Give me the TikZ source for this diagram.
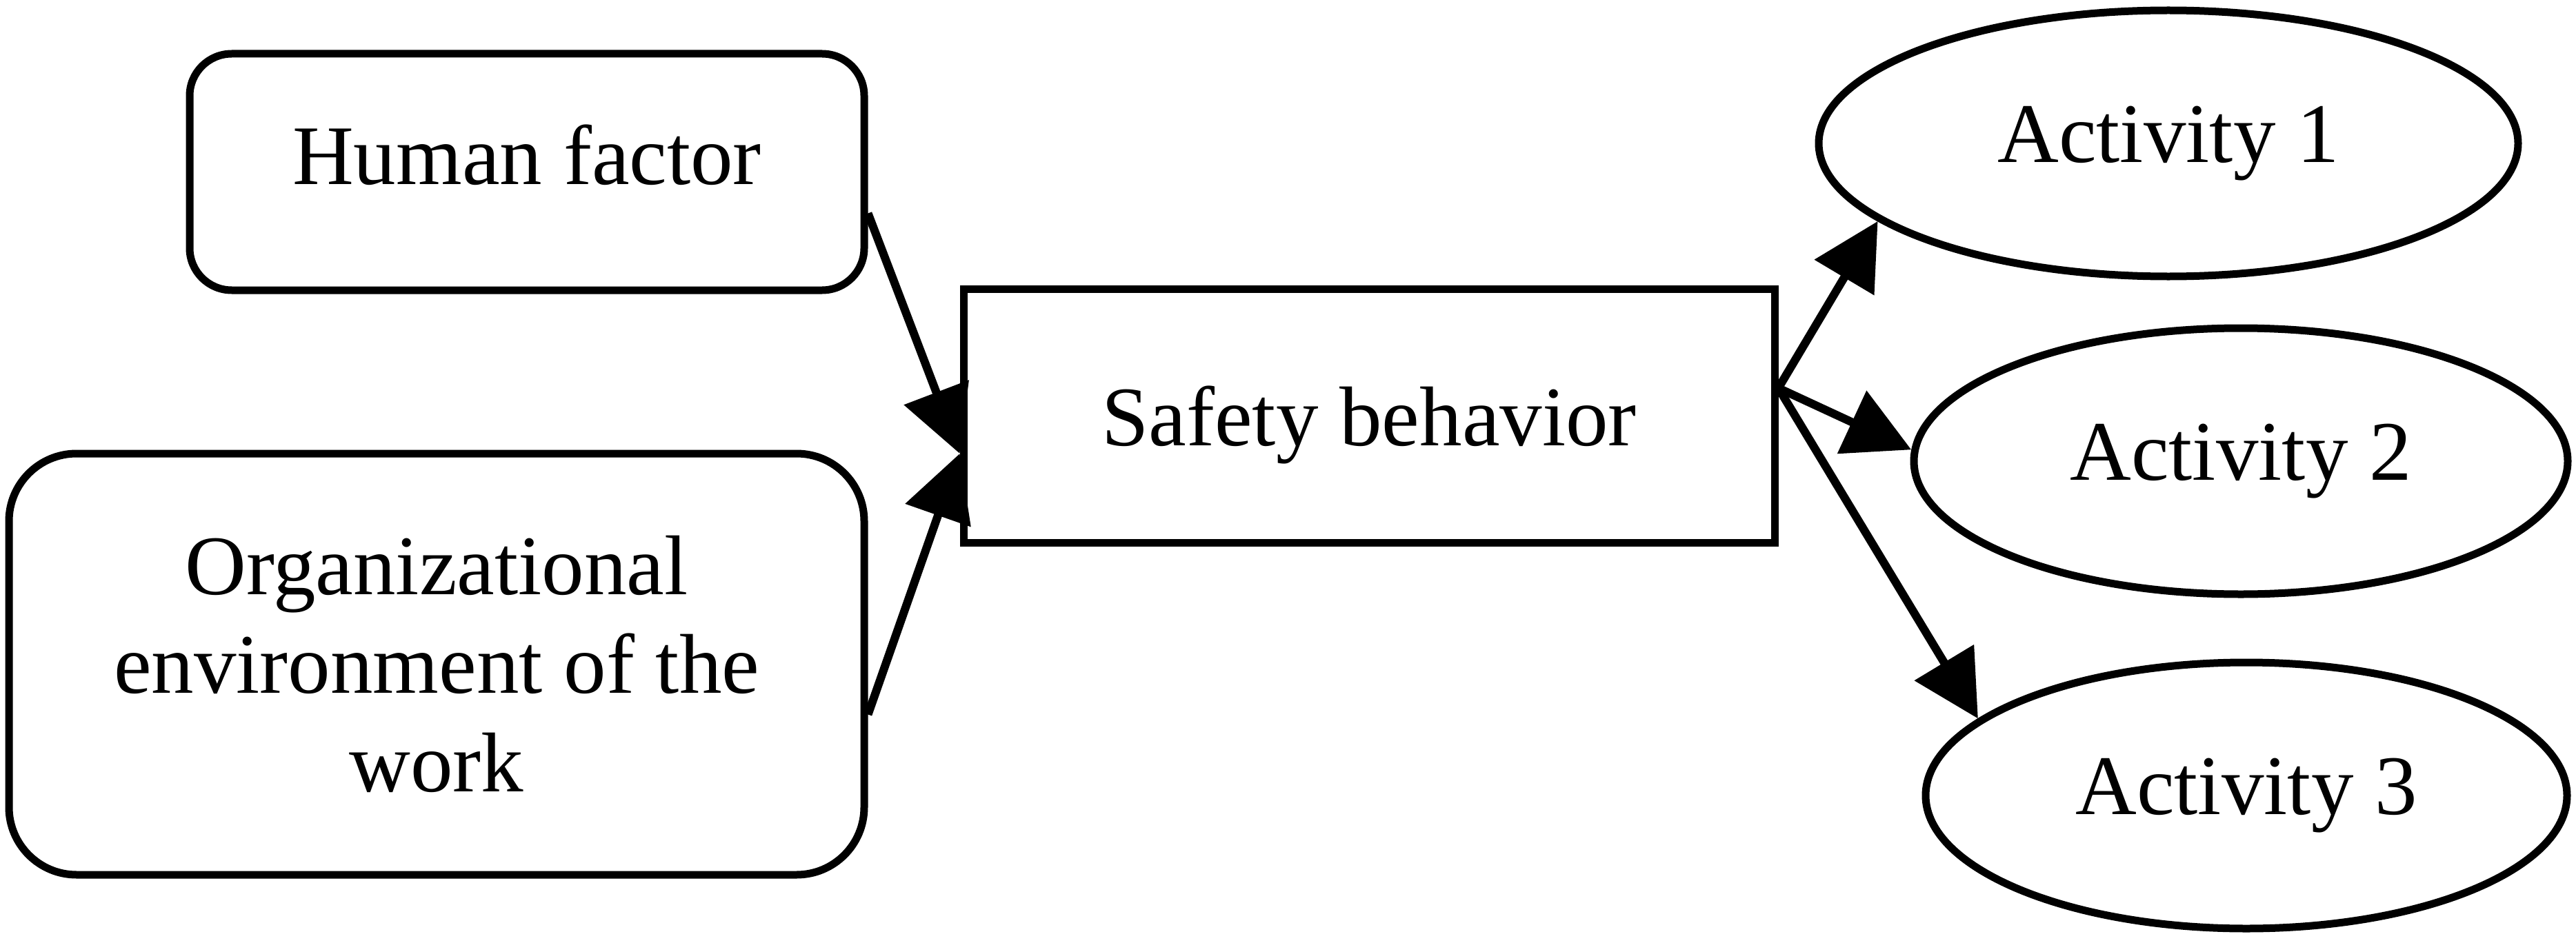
\documentclass[tikz,border=0pt]{standalone}
\usepackage{fontspec}
\setmainfont{Liberation Serif}
\usetikzlibrary{calc,arrows.meta,shapes.geometric}
\tikzset{
	basebox/.style={draw, line width=1.1mm, inner sep=0pt, font=\fontsize{35pt}{40.7pt}\selectfont},
	factorbox/.style={basebox, rounded corners=#1},
	behaviorbox/.style={basebox},
	actellipse/.style={basebox, ellipse},
	flowarrow/.style={line width=1.2mm, -{Triangle[length=0.95cm, width=0.98cm]}}
}

\begin{document}
\begin{tikzpicture}
			%%%%% START %%%%%
			\useasboundingbox (0, 0) rectangle (37.35, 13.67);
			
			\node[factorbox=0.61cm, minimum width=9.78cm, minimum height=3.43cm, text depth=0.5cm] (human) at (7.64, 11.175) {Human factor};
			\node[factorbox=0.98cm, minimum width=12.4cm, minimum height=6.11cm, align=center] (org) at (6.33, 4.035) {Organizational\\environment of the\\work};
			
			\node[behaviorbox, minimum width=11.76cm, minimum height=3.68cm, text depth=0cm] (safety) at (19.85, 7.64) {Safety behavior};
			
			\node[actellipse, minimum width=10.14cm, minimum height=3.86cm] (act1) at (31.44, 11.59) {Activity 1};
			\node[actellipse, minimum width=9.48cm, minimum height=3.86cm] (act2) at (32.49, 6.98) {Activity 2};
			\node[actellipse, minimum width=9.3cm, minimum height=3.86cm] (act3) at (32.57, 2.13) {Activity 3};
			
			\coordinate (into) at ($(safety.west)+(0, -0.55)$);
			\coordinate (out) at ($(safety.east)+(0, 0.4)$);
			
			\draw[flowarrow] ($(human.east)+(0, -0.6)$) -- (into);
			\draw[flowarrow] ($(org.east)+(0, -0.73)$) -- (into);
			
			\draw[flowarrow] (out) -- (act1.195);
			\draw[flowarrow] (out) -- (act2.178);
			\draw[flowarrow] (out) -- (act3.164);
			
			%%%%% END %%%%%
		\end{tikzpicture}
\end{document}
